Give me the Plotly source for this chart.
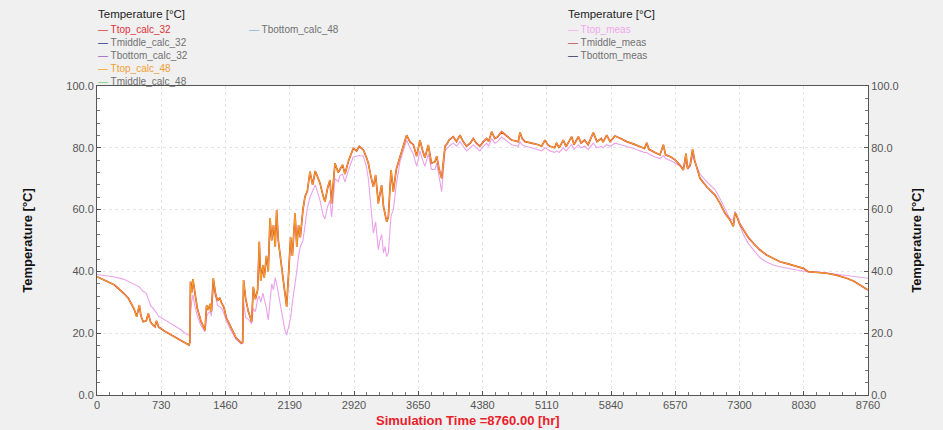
import plotly.graph_objects as go

# Simulated vs. measured top-of-tank temperature over one year (hourly time axis)
hours = [
    0, 100, 200, 300, 356, 420, 451, 481, 500, 526, 560, 583, 610, 640, 659, 675, 700, 760, 810, 880,
    950, 1000, 1045, 1055, 1062, 1075, 1090, 1110, 1140, 1180, 1227, 1245, 1265, 1285, 1300, 1321,
    1345, 1370, 1395, 1416, 1440, 1470, 1520, 1580, 1640, 1655, 1665, 1690, 1720, 1757, 1776, 1800,
    1825, 1844, 1860, 1885, 1900, 1925, 1946, 1966, 1985, 2005, 2025, 2041, 2060, 2080, 2110, 2135,
    2155, 2175, 2200, 2220, 2250, 2270, 2290, 2310, 2340, 2363, 2390, 2420, 2450, 2480, 2534, 2571,
    2590, 2620, 2647, 2666, 2704, 2740, 2760, 2790, 2817, 2860, 2912, 2950, 2980, 3026, 3060, 3083,
    3110, 3140, 3166, 3196, 3215, 3234, 3255, 3272, 3291, 3310, 3341, 3367, 3400, 3443, 3480, 3518,
    3555, 3594, 3632, 3670, 3700, 3726, 3764, 3800, 3840, 3860, 3885, 3916, 3954, 3980, 4000, 4048,
    4085, 4124, 4160, 4200, 4240, 4275, 4310, 4350, 4390, 4427, 4450, 4484, 4520, 4550, 4597, 4640,
    4711, 4787, 4806, 4830, 4863, 4938, 5014, 5052, 5090, 5120, 5147, 5200, 5222, 5250, 5298, 5330,
    5393, 5420, 5469, 5500, 5540, 5580, 5639, 5680, 5730, 5750, 5791, 5830, 5885, 5950, 6018, 6100,
    6170, 6220, 6246, 6270, 6340, 6397, 6435, 6460, 6520, 6567, 6620, 6662, 6692, 6710, 6740, 6767,
    6790, 6851, 6927, 7000, 7022, 7079, 7136, 7192, 7230, 7249, 7265, 7300, 7343, 7400, 7457, 7530,
    7608, 7690, 7760, 7840, 7911, 7980, 8025, 8082, 8200, 8290, 8400, 8518, 8600, 8670, 8760,
]

ttop_calc = [
    38.3, 37.0, 35.6, 33.0, 31.3, 28.0, 25.3, 29.1, 25.5, 23.7, 24.0, 26.4, 23.5, 22.5, 22.1, 24.0, 22.0, 20.8, 20.0, 18.8,
    17.6, 16.7, 16.2, 17.0, 36.7, 33.0, 37.5, 33.5, 28.0, 24.0, 21.0, 29.0, 27.5, 29.5, 27.0, 37.8,
    33.0, 30.5, 31.5, 29.7, 28.5, 25.0, 22.0, 18.5, 16.8, 17.0, 37.2, 31.0, 27.0, 23.7, 35.0, 31.0,
    34.0, 49.6, 37.0, 42.0, 38.0, 45.0, 40.0, 57.2, 50.0, 55.0, 48.0, 59.9, 50.0, 45.0, 38.0, 33.0,
    28.6, 40.0, 51.0, 45.0, 58.8, 48.0, 55.0, 51.0, 60.0, 64.2, 66.0, 72.3, 68.0, 72.5, 68.5, 64.2,
    62.6, 67.0, 69.6, 62.0, 75.0, 72.0, 73.0, 74.5, 71.5, 76.0, 79.8, 79.0, 80.5, 79.3, 77.0, 75.0,
    71.0, 67.4, 71.2, 62.0, 65.0, 67.9, 61.0, 58.8, 56.1, 57.5, 72.8, 65.8, 73.0, 77.1, 80.9, 84.1,
    82.0, 81.0, 77.3, 82.5, 79.0, 76.8, 80.9, 75.0, 75.5, 77.3, 73.3, 70.1, 80.5, 81.4, 82.5, 83.6,
    82.0, 84.1, 82.0, 80.5, 81.5, 83.0, 81.5, 80.5, 82.0, 83.0, 82.0, 85.2, 83.0, 83.5, 85.2, 84.1,
    82.5, 82.0, 85.0, 83.0, 82.0, 81.5, 81.0, 80.5, 82.5, 81.0, 80.5, 80.0, 81.6, 80.0, 82.5, 80.4,
    83.6, 81.0, 83.6, 81.5, 82.5, 81.0, 84.9, 82.0, 83.0, 81.8, 84.1, 82.0, 83.8, 83.0, 82.0, 81.2,
    80.4, 79.8, 81.6, 79.5, 78.5, 77.7, 81.0, 77.7, 77.0, 76.1, 74.5, 72.8, 78.1, 73.3, 74.5, 79.5,
    76.0, 70.1, 67.4, 65.5, 64.7, 62.0, 58.8, 56.6, 54.6, 58.9, 58.3, 55.5, 53.4, 51.0, 49.1, 47.0,
    45.3, 44.0, 43.1, 42.5, 42.0, 41.5, 41.0, 39.9, 39.6, 39.4, 38.8, 37.8, 36.8, 35.6, 34.0,
]

ttop_meas = [
    39.0, 38.6, 38.2, 37.5, 36.8, 36.0, 35.5, 35.0, 34.3, 33.5, 32.9, 31.0, 28.8, 28.0, 27.0, 26.6, 25.5, 24.5, 23.8, 22.5,
    21.2, 20.0, 19.4, 18.8, 26.0, 30.0, 32.5, 29.0, 25.5, 22.5, 20.5, 25.5, 26.5, 27.0, 25.5, 35.0,
    31.5, 29.0, 28.5, 28.0, 26.5, 24.0, 21.0, 18.0, 16.5, 17.0, 30.0, 25.0, 24.5, 23.0, 28.0, 27.0,
    31.0, 32.0, 30.0, 33.0, 31.0, 28.0, 24.3, 30.0, 36.0, 34.0, 38.0, 36.0, 33.0, 30.0, 25.0, 21.0,
    19.4, 22.0, 25.0, 30.0, 35.6, 40.0, 45.0, 48.0, 50.0, 55.0, 60.5, 64.0, 66.0, 68.0, 63.0, 58.0,
    57.0, 61.0, 63.0, 57.6, 70.0, 69.0, 71.0, 71.5, 69.0, 73.0, 77.0, 77.3, 77.5, 77.3, 74.0, 70.0,
    62.0, 52.4, 56.0, 47.0, 50.0, 52.0, 46.0, 48.0, 44.8, 46.0, 58.0, 60.0, 68.0, 75.6, 79.0, 82.5,
    80.0, 78.0, 74.0, 79.0, 76.0, 74.0, 78.0, 73.0, 73.0, 75.0, 71.0, 65.8, 79.3, 79.8, 80.5, 81.5,
    80.5, 82.0, 80.5, 79.0, 80.0, 81.0, 80.0, 79.0, 80.5, 81.5, 80.5, 83.0, 81.5, 82.0, 83.5, 82.5,
    81.0, 80.5, 82.0, 81.0, 80.5, 80.0, 79.5, 79.0, 80.0, 79.5, 79.0, 78.5, 79.0, 78.5, 80.0, 79.0,
    81.0, 79.5, 81.0, 80.0, 80.5, 79.5, 81.5, 80.0, 80.5, 80.0, 81.0, 80.5, 81.5, 81.0, 80.5, 79.8,
    79.0, 78.5, 78.5, 78.0, 77.0, 76.5, 77.5, 76.5, 75.8, 75.0, 74.0, 73.5, 75.5, 73.0, 74.0, 77.5,
    75.5, 71.5, 69.0, 67.0, 66.5, 63.5, 60.0, 57.0, 56.5, 59.5, 58.0, 55.0, 52.0, 49.0, 47.0, 44.5,
    43.0, 42.0, 41.5, 41.0, 40.6, 40.3, 40.1, 39.9, 39.8, 39.5, 39.2, 38.8, 38.5, 38.2, 37.8,
]

x_ticks = [0, 730, 1460, 2190, 2920, 3650, 4380, 5110, 5840, 6570, 7300, 8030, 8760]
y_ticks = [0, 20, 40, 60, 80, 100]

# Legend groups: (name, line colour, text colour)
calc_legend_left = [
    ("Ttop_calc_32", "#d9443a", "#e0303a"),
    ("Tmiddle_calc_32", "#2c3a8c", "#707070"),
    ("Tbottom_calc_32", "#a05cc0", "#707070"),
    ("Ttop_calc_48", "#f5a623", "#f0a030"),
    ("Tmiddle_calc_48", "#7cc87c", "#707070"),
]
calc_legend_right = [
    ("Tbottom_calc_48", "#7fb6dc", "#707070"),
]
meas_legend = [
    ("Ttop_meas", "#f0b0ee", "#f0a8ee"),
    ("Tmiddle_meas", "#c0504d", "#707070"),
    ("Tbottom_meas", "#34335a", "#707070"),
]

FONT = "Liberation Sans, Arial, sans-serif"
L, R, T, B = 97, 75, 86, 35
W, H = 943, 430
PW, PH = W - L - R, H - T - B


def px(xp):
    return (xp - L) / PW


def py(yp):
    return (H - B - yp) / PH


fig = go.Figure()

fig.add_trace(go.Scatter(
    x=hours, y=ttop_meas, mode="lines", name="Ttop_meas",
    line=dict(color="#eaa2ea", width=1.1), yaxis="y", showlegend=False,
))
fig.add_trace(go.Scatter(
    x=hours, y=ttop_calc, mode="lines", name="Ttop_calc_32",
    line=dict(color="#d9443a", width=1.7), yaxis="y2", showlegend=False,
))
fig.add_trace(go.Scatter(
    x=hours, y=ttop_calc, mode="lines", name="Ttop_calc_48",
    line=dict(color="#f5a623", width=1.0), yaxis="y2", showlegend=False,
))

annotations = []
LEG_SIZE = 10


def legend_block(entries, x_left, y_first, title=None):
    # title on its own line, entries stacked in one multi-line text block
    if title:
        annotations.append(dict(
            text=title, xref="paper", yref="paper", x=px(x_left), y=py(14),
            xanchor="left", yanchor="middle", showarrow=False,
            font=dict(family=FONT, size=11.5, color="#222222"),
        ))
    lines = [
        f"<span style='color:{lc}'>—</span> <span style='color:{tc}'>{name}</span>"
        for name, lc, tc in entries
    ]
    annotations.append(dict(
        text="<br>".join(lines), xref="paper", yref="paper", x=px(x_left),
        y=py(y_first - 0.65 * LEG_SIZE), xanchor="left", yanchor="top", align="left",
        showarrow=False, font=dict(family=FONT, size=LEG_SIZE, color="#707070"),
    ))


legend_block(calc_legend_left, 96, 28, "Temperature [°C]")
legend_block(calc_legend_right, 247, 28)
legend_block(meas_legend, 566, 28, "Temperature [°C]")

annotations.append(dict(
    text="<b>Simulation Time =8760.00 [hr]</b>", xref="paper", yref="paper",
    x=px(468), y=py(420), xanchor="center", yanchor="middle", showarrow=False,
    font=dict(family=FONT, size=13, color="#e8202a"),
))

axis_common = dict(
    showline=True, linecolor="#555555", linewidth=1,
    ticks="inside", ticklen=4, tickcolor="#555555",
    tickfont=dict(family=FONT, size=11, color="#555555"),
    zeroline=False,
)
minor_y = dict(dtick=4, tick0=0, ticks="inside", ticklen=3, tickcolor="#777777")
title_font = dict(family=FONT, size=13, color="#111111")

fig.update_layout(
    width=W, height=H,
    margin=dict(l=L, r=R, t=T, b=B),
    paper_bgcolor="#f0f0f0",
    plot_bgcolor="#ffffff",
    showlegend=False,
    annotations=annotations,
    xaxis=dict(
        range=[0, 8760], tickvals=x_ticks, ticktext=[str(v) for v in x_ticks],
        mirror=True, showgrid=True, gridcolor="#e4e4e4", griddash="dot",
        minor=dict(dtick=146, tick0=0, ticks="inside", ticklen=3, tickcolor="#777777"),
        **axis_common,
    ),
    yaxis=dict(
        range=[0, 100], tickvals=y_ticks, tickformat=".1f",
        showgrid=True, gridcolor="#e4e4e4", griddash="dot", minor=minor_y,
        title=dict(text="<b>Temperature [°C]</b>", font=title_font, standoff=30),
        **axis_common,
    ),
    yaxis2=dict(
        range=[0, 100], tickvals=y_ticks, tickformat=".1f",
        overlaying="y", side="right", anchor="x", showgrid=False, minor=minor_y,
        title=dict(text="<b>Temperature [°C]</b>", font=title_font, standoff=14),
        **axis_common,
    ),
)

fig.write_html("out.html")
